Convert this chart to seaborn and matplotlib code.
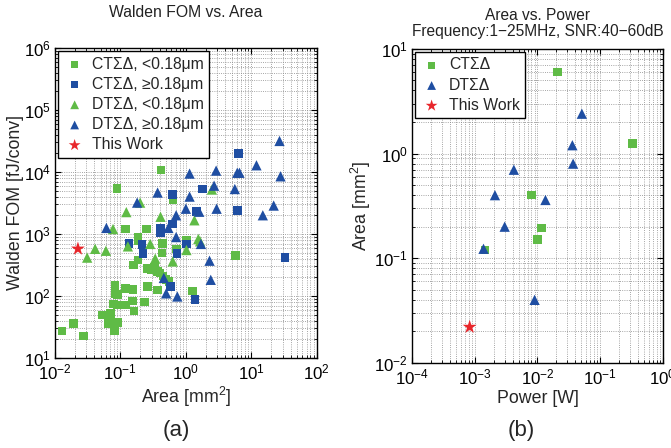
import numpy as np
import pandas as pd
import matplotlib
matplotlib.use('Agg')
import matplotlib.pyplot as plt
import seaborn as sns
from matplotlib.ticker import LogLocator, NullFormatter

# Dane (a): Walden FOM vs. Area
ct_small_area = [0.089, 0.64, 0.12, 0.25, 0.185, 0.185, 0.44, 1.02, 0.72, 0.43, 0.157, 0.185,
                 0.26, 0.30, 0.33, 0.37, 0.40, 0.50, 0.55, 0.45, 0.37, 0.26, 1.26, 5.75,
                 0.083, 0.083, 0.09, 0.12, 0.155, 0.154, 0.12, 0.079, 0.09, 0.071, 0.071,
                 0.066, 0.091, 0.081, 0.16, 0.235, 0.052, 0.027, 0.019, 0.0128, 0.42]
ct_small_fom = [5400, 3500, 1200, 1200, 890, 790, 705, 790, 570, 490, 317, 380,
                280, 260, 290, 250, 233, 183, 170, 210, 125, 142, 120, 445,
                150, 110, 105, 132, 128, 83, 71, 74, 72, 53, 46,
                36, 37, 27.5, 57, 80, 49, 22.5, 36, 27, 10800]
ct_big_area = [6.4, 0.62, 1.78, 6.1, 1.45, 0.63, 0.41, 0.41, 1.02, 0.135, 0.215, 0.22,
               0.73, 33, 0.58, 1.38]
ct_big_fom = [20000, 4300, 5300, 2400, 2280, 1450, 1250, 1040, 690, 705, 670, 480,
              480, 420, 142, 87]
dt_small_area = [2.5, 0.20, 0.123, 0.41, 1.35, 0.077, 1.55, 1.65, 0.285, 1.02, 0.13,
                 0.041, 0.06, 0.031, 0.34, 0.63]
dt_small_fom = [5200, 3200, 2250, 1890, 1660, 1200, 830, 760, 690, 550, 630,
                575, 535, 415, 400, 360]
dt_big_area = [27, 1.14, 2.9, 6.1, 6.6, 12, 28, 0.37, 2.7, 5.6, 1.14, 0.18, 2.95, 1.0,
               1.6, 22, 15, 0.71, 0.061, 0.54, 0.71, 1.7, 2.3, 2.4, 0.46, 0.5, 0.74]
dt_big_fom = [31600, 9400, 10500, 9700, 9700, 12800, 8500, 4650, 6000, 5300, 4000, 3200,
              2550, 2550, 2280, 2870, 2000, 2000, 1250, 1250, 890, 690, 370, 182, 195, 110, 98]
tw_area = [0.0224]
tw_fom = [575]

# Dane (b): Area vs. Power
ct_power = [0.021, 0.33, 0.008, 0.0116, 0.010, 0.00145]
ct_area_b = [6.0, 1.25, 0.40, 0.195, 0.15, 0.12]
dt_power = [0.051, 0.036, 0.037, 0.0042, 0.0021, 0.0134, 0.003, 0.00138, 0.009]
dt_area_b = [2.4, 1.2, 0.8, 0.7, 0.4, 0.36, 0.2, 0.123, 0.04]
tw_power = [0.00083]
tw_area_b = [0.022]

green = '#5fbb46'
blue = '#1f4ea2'
red = '#e8262b'

sns.set_style('ticks')
plt.rcParams['font.family'] = ['Liberation Sans', 'DejaVu Sans']
plt.rcParams['mathtext.fontset'] = 'custom'
plt.rcParams['mathtext.rm'] = 'Liberation Sans'
plt.rcParams['mathtext.it'] = 'Liberation Sans:italic'

fig = plt.figure(figsize=(6.71, 4.48), dpi=100)
ax1 = fig.add_axes([0.082, 0.201, 0.390, 0.692])
ax2 = fig.add_axes([0.614, 0.190, 0.374, 0.701])


def style_axes(ax, xlim, ylim):
    ax.set_xscale('log')
    ax.set_yscale('log')
    ax.set_xlim(*xlim)
    ax.set_ylim(*ylim)
    ax.xaxis.set_major_locator(LogLocator(base=10, numticks=20))
    ax.yaxis.set_major_locator(LogLocator(base=10, numticks=20))
    ax.xaxis.set_minor_locator(LogLocator(base=10, subs=np.arange(2, 10), numticks=20))
    ax.yaxis.set_minor_locator(LogLocator(base=10, subs=np.arange(2, 10), numticks=20))
    ax.xaxis.set_minor_formatter(NullFormatter())
    ax.yaxis.set_minor_formatter(NullFormatter())
    ax.grid(True, which='both', linestyle=':', color='#888888', linewidth=0.6)
    ax.tick_params(which='both', direction='in', top=True, right=True, labelsize=12.2,
                   colors='black', pad=3)
    ax.tick_params(which='major', length=4)
    ax.tick_params(which='minor', length=2)
    for sp in ax.spines.values():
        sp.set_visible(True)
        sp.set_color('black')
        sp.set_linewidth(1.0)
    ax.set_axisbelow(True)


style_axes(ax1, (1e-2, 1e2), (1e1, 1e6))
style_axes(ax2, (1e-4, 1e0), (1e-2, 1e1))

groups_a = [
    (ct_small_area, ct_small_fom, 's', green, 38, 'CTΣΔ, <0.18μm'),
    (ct_big_area, ct_big_fom, 's', blue, 38, 'CTΣΔ, ≥0.18μm'),
    (dt_small_area, dt_small_fom, '^', green, 55, 'DTΣΔ, <0.18μm'),
    (dt_big_area, dt_big_fom, '^', blue, 55, 'DTΣΔ, ≥0.18μm'),
    (tw_area, tw_fom, '*', red, 110, 'This Work'),
]
for xs, ys, m, c, s, lab in groups_a:
    sns.scatterplot(x=xs, y=ys, marker=m, color=c, s=s, edgecolor='none',
                    label=lab, ax=ax1, zorder=3)

groups_b = [
    (ct_power, ct_area_b, 's', green, 38, 'CTΣΔ'),
    (dt_power, dt_area_b, '^', blue, 55, 'DTΣΔ'),
    (tw_power, tw_area_b, '*', red, 110, 'This Work'),
]
for xs, ys, m, c, s, lab in groups_b:
    sns.scatterplot(x=xs, y=ys, marker=m, color=c, s=s, edgecolor='none',
                    label=lab, ax=ax2, zorder=3)

for ax in (ax1, ax2):
    leg = ax.legend(loc='upper left', fontsize=11.3, frameon=True, fancybox=False,
                    framealpha=1, edgecolor='black', borderaxespad=0.2,
                    labelspacing=0.33, handletextpad=0.4, borderpad=0.35,
                    handlelength=1.4, markerscale=0.85)
    leg.get_frame().set_linewidth(1.0)

ax1.set_title('Walden FOM vs. Area', fontsize=11.3, color='#222222', pad=22)
ax1.set_xlabel('Area [mm$^2$]', fontsize=12.8, labelpad=2)
ax1.set_ylabel('Walden FOM [fJ/conv]', fontsize=12.8, labelpad=0)
ax2.set_title('Area vs. Power\nFrequency:1−25MHz, SNR:40−60dB', fontsize=11.2,
              color='#222222', pad=9, linespacing=1.15)
ax2.set_xlabel('Power [W]', fontsize=12.8, labelpad=2)
ax2.set_ylabel('Area [mm$^2$]', fontsize=12.8, labelpad=1)

fig.text(176 / 671, 1 - 430 / 448, '(a)', fontsize=16, ha='center', va='center')
fig.text(521 / 671, 1 - 430 / 448, '(b)', fontsize=16, ha='center', va='center')

fig.savefig('out.png', dpi=100)
